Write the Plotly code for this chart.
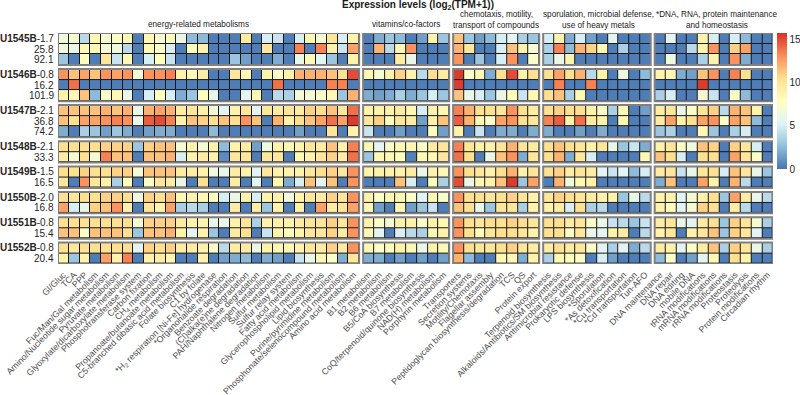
import plotly.graph_objects as go

# ---------------- data ----------------
sites = ["U1545B", "U1546B", "U1547B", "U1548B", "U1549B", "U1550B", "U1551B", "U1552B"]
depths = [["-1.7", "25.8", "92.1"], ["-0.8", "16.2", "101.9"], ["-2.1", "36.8", "74.2"],
          ["-2.1", "33.3"], ["-1.5", "16.5"], ["-2.0", "16.8"], ["-0.8", "15.4"], ["-0.8", "20.4"]]

group_titles = [["energy-related metabolisms"], ["vitamins/co-factors"],
                ["chemotaxis, motility,", "transport of compounds"],
                ["sporulation, microbial defense,", "use of heavy metals"],
                ["*DNA, RNA, protein maintenance", "and homeostasis"]]

energy_labels = ["Gl/Gluc", "TCA", "PPP", "Fuc/Man/Gal metabolism", "Amino/Nucleotide sugar metabolism",
                 "Pyruvate metabolism", "Glyoxylate/dicarboxylate metabolism", "Phosphotransferase system",
                 "Carbon fixation", "CH<sub>4</sub> metabolism", "Propanoate/butanoate metabolism",
                 "C5-branched dibasic acid metabolism", "Folate biosynthesis", "C1 by folate",
                 "*H<sub>2</sub> respiration [Ni-Fe] hydrogenase", "*Organohalide respiration",
                 "Benzoate degradation", "(Cl)alka(e)ne degradation", "PAH/Naphthalene degradation",
                 "Nitrogen metabolism", "Sulfur metabolism", "Sulfur relay system", "Fatty acid metabolism",
                 "Glycerophospholipid metabolism", "Lipid biosynthesis", "Purine/pyrimidine metabolism",
                 "Phosphonate/selenocompound metabolism", "Amino acid metabolism"]
vitamin_labels = ["B1 metabolism", "B2 metabolism", "B6 metabolism", "B5/CoA biosynthesis", "B7 metabolism",
                  "CoQ/terpenoid/quinone biosynthesis", "NAD(H) metabolism", "Porphyrin metabolism"]
chemo_labels = ["Transporters", "Secretion systems", "Motility/Chemotaxis", "Flagellar assembly",
                "Peptidoglycan biosynthesis/degradation", "TCS", "QS", "Protein export"]
spor_labels = ["Terpenoid biosynthesis", "Alkaloids/Antibiotics/SM biosynthesis", "Antimicrobial resistance",
               "Prokaryotic defense", "LPS biosynthesis", "*Sporulation", "*As detoxification",
               "*Cu transportation", "*Cd transportation", "Tun-AFO"]
dna_labels = ["DNA maintenance", "DNA repair", "DNA editing", "mobile DNA", "tRNA modifications",
              "mRNA modifications", "rRNA modifications", "Proteostasis", "Proteolysis",
              "Protein modifications", "Circadian rhythm"]

energy = [
    [6.5, 7, 4, 8.5, 7, 7.5, 8.5, 0.3, 8.5, 7, 8, 6, 2.5, 2.5, 0.3, 0.3, 0.3, 9.5, 0.3, 5, 4.5, 0.3, 5, 8.5, 7, 10, 5, 9],
    [6.5, 6, 8.5, 8.5, 7, 6.5, 4, 0.3, 8.5, 7.5, 5, 0.3, 8, 9, 0.3, 0.3, 0.3, 0.3, 0.3, 10, 0.3, 0.3, 13.5, 0.3, 13.5, 9, 4.5, 12.5],
    [3, 0.3, 8, 0.3, 10, 4.5, 8.5, 0.3, 5, 8, 4.5, 0.3, 0.3, 0.3, 0.3, 0.3, 3, 1.5, 0.3, 0.3, 2, 0.3, 6, 8.5, 5.5, 3, 0.3, 9],
    [13, 11.5, 12.5, 11.5, 13, 12.5, 13, 7, 13, 13, 13.5, 9, 8.5, 9.5, 0.3, 0.3, 10, 8.5, 0.3, 9, 7.5, 9, 12, 12, 12, 11.5, 10.5, 15],
    [0.3, 14, 0.3, 0.3, 0.3, 0.3, 0.3, 0.3, 0.3, 0.3, 0.3, 0.3, 0.3, 0.3, 0.3, 0.3, 0.3, 0.3, 0.3, 0.3, 14, 0.3, 0.3, 0.3, 0.3, 13.5, 13.5, 0.3],
    [9, 8.5, 11.5, 2.5, 7.5, 8.5, 6, 0.3, 5, 8, 5, 2, 3, 8, 6, 0.3, 0.3, 5.5, 8.5, 0.3, 4, 3.5, 7, 7, 7.5, 8.5, 3, 12],
    [11.5, 11.5, 11.5, 11.5, 12, 11.5, 12, 6, 12, 12.5, 12, 9.5, 10, 9, 7, 5.5, 9, 10, 5.5, 10, 9.5, 10, 9.5, 11, 10.5, 11.5, 10, 14],
    [11.5, 10.5, 12.5, 12.5, 13, 13.5, 13, 6, 14.5, 15, 13.5, 9, 11.5, 11, 10.5, 11.5, 10.5, 13, 11.5, 0.3, 12, 9, 10.5, 11.5, 12.5, 14, 12.5, 15.5],
    [2, 0.3, 3.5, 3, 1.5, 3, 2, 0.3, 1.5, 2, 2, 0.3, 0.3, 0.3, 2.5, 0.3, 0.3, 0.3, 0.3, 0.3, 0.3, 0.3, 1.5, 0.3, 0.3, 10, 0.3, 9],
    [10.5, 10.5, 10.5, 10.5, 11, 11, 11, 3, 11, 11.5, 11.5, 7, 9, 7, 9, 2.5, 9, 9.5, 1.5, 6.5, 9, 8.5, 9, 10, 9.5, 11.5, 9, 13.5],
    [9.5, 7, 10.5, 7, 13.5, 11.5, 11.5, 0.3, 11.5, 11.5, 12, 5, 9, 9.5, 9, 0.8, 10, 10, 0.3, 10, 10, 0.3, 8.5, 9, 10, 11, 9.5, 14],
    [10.5, 10.5, 11, 10.5, 10.5, 11, 11, 7, 11.5, 11.5, 11.5, 9.5, 9.5, 9, 6.5, 6, 9.5, 9, 5.5, 10, 9, 9, 9, 10, 10.5, 11, 10, 13],
    [10, 0.3, 13, 10, 9, 3.5, 8, 0.3, 7.5, 10, 9.5, 6, 0.3, 10.5, 0.3, 0.3, 9.5, 0.3, 5.5, 0.3, 8.5, 2, 5, 11.5, 5.5, 11.5, 0.3, 13],
    [10.5, 10, 10.5, 10.5, 11, 11, 10.5, 6.5, 11, 10.5, 11.5, 8.5, 9, 8.5, 8, 5, 6, 9, 5, 9, 9, 6.5, 9, 10, 9.5, 11, 10, 13],
    [12.5, 5, 6, 11, 11.5, 13, 9, 0.3, 10, 9, 12.5, 3.5, 4, 3.5, 0.3, 0.3, 9.5, 0.3, 9.5, 3, 9, 0.3, 9, 0.3, 12.5, 9.5, 10, 12.5],
    [10.5, 10.5, 10.5, 10.5, 10.5, 10.5, 10.5, 7, 11, 11, 11, 9.5, 9, 9, 6, 6, 9, 10, 3.5, 9, 9, 9, 9.5, 10, 10, 11, 10, 13],
    [11.5, 11.5, 7.5, 11.5, 11.5, 11.5, 10.5, 3, 11.5, 11.5, 12, 9, 5.5, 9, 3, 0.3, 9.5, 10.5, 0.3, 4.5, 9, 8, 9, 10, 10, 11, 9.5, 13],
    [10.5, 10, 10.5, 10.5, 10.5, 10.5, 10.5, 5.5, 11, 10.5, 11, 9.5, 9.5, 9, 7.5, 4, 9.5, 9.5, 6, 9, 8.5, 8.5, 9, 10, 9.5, 11, 9.5, 13],
    [9, 3, 9, 0.3, 12.5, 9, 13.5, 0.3, 9, 9.5, 8.5, 0.3, 0.3, 9, 0.3, 1.5, 2, 2.5, 0.3, 2, 1.5, 0.3, 4.5, 6, 8.5, 7.5, 2, 10],
]
vitamins = [
    [0.3, 2, 3, 2.5, 0.3, 1.5, 9, 3],
    [0.3, 12, 4, 8.5, 13, 0.3, 0.3, 0.3],
    [0.3, 0.3, 0.3, 9.5, 6, 0.3, 0.3, 0.3],
    [8.5, 7, 9, 11, 9, 4, 10.5, 9.5],
    [0.3, 0.3, 0.3, 0.3, 0.3, 0.3, 0.3, 0.3],
    [2, 1.5, 2, 3.5, 2, 3, 5, 3],
    [9, 9, 9, 9.5, 8.5, 5, 9, 8.5],
    [10, 11, 8, 10, 9.5, 1.5, 9, 11.5],
    [4.5, 0.3, 0.3, 1.5, 0.3, 0.3, 8, 1.5],
    [8.5, 5.5, 7.5, 8.5, 8.5, 7.5, 9.5, 10],
    [3, 8.5, 8.5, 8, 0.5, 8.5, 8.5, 10],
    [9, 9, 9, 9, 9.5, 6, 9, 8.5],
    [0.3, 0.3, 0.3, 11.5, 5, 0.3, 8, 3.5],
    [9, 7.5, 8.5, 8.5, 7.5, 5.5, 8.5, 7.5],
    [8.5, 1.5, 0.3, 8.5, 1.5, 3, 4.5, 0.3],
    [9, 7.5, 7, 9, 9, 7.5, 9, 8.5],
    [8.5, 5.5, 0.3, 5, 4, 3.5, 8.5, 9],
    [8.5, 7.5, 8, 9, 8.5, 6, 9, 8.5],
    [2, 2, 0.3, 1.5, 0.3, 1.5, 0.3, 1.5],
]
chemotaxis = [
    [11.5, 3, 1.5, 2.5, 5, 5.5, 3.5, 3],
    [12, 10, 0.3, 0.3, 5, 11.5, 9, 7],
    [13, 0.3, 3, 0.3, 5, 13, 0.3, 7.5],
    [15.5, 7.5, 8.5, 2, 10.5, 15, 9, 10.5],
    [15.5, 0.3, 0.3, 0.3, 0.3, 0.3, 0.3, 0.3],
    [11.5, 6, 5, 3, 6, 8, 4.5, 8.5],
    [13.5, 12, 10.5, 10.5, 10, 13, 10.5, 9.5],
    [14.5, 12, 8.5, 7.5, 12.5, 13, 10.5, 10],
    [9, 0.3, 4.5, 0.3, 2, 2, 0.3, 2],
    [13.5, 10, 9, 9, 10, 12, 10, 9.5],
    [14, 10.5, 0.3, 6, 11.5, 13, 2, 10],
    [13, 10.5, 10, 9, 10.5, 12, 9, 10],
    [15, 6, 8.5, 9, 11.5, 15.5, 3, 12.5],
    [13, 10.5, 10.5, 10, 10.5, 11, 10, 9],
    [11.5, 10.5, 6, 3, 10, 10, 3.5, 9],
    [13, 10.5, 10, 10.5, 10.5, 11, 10.5, 10],
    [13, 10.5, 8, 10, 10.5, 10.5, 10, 9],
    [13, 10.5, 10, 10, 10.5, 11, 10, 9.5],
    [12, 2.5, 0.3, 0.3, 8.5, 8.5, 2, 9],
]
sporulation = [
    [5, 9, 2, 5, 1.5, 0.3, 5.5, 0.3, 0.3, 0.3],
    [3.5, 13.5, 2.5, 12, 11, 8.5, 0.3, 3.5, 0.3, 0.3],
    [3.5, 6, 9, 0.3, 0.3, 0.3, 0.3, 0.3, 0.3, 0.3],
    [10.5, 12.5, 10.5, 12, 4, 9, 0.3, 6.5, 0.3, 2.5],
    [0.3, 13.5, 0.3, 0.3, 13.5, 0.3, 0.3, 0.3, 0.3, 0.3],
    [10.5, 11.5, 3.5, 8.5, 0.3, 0.3, 0.3, 0.3, 0.3, 0.3],
    [10.5, 11, 10.5, 10.5, 9, 7.5, 3.5, 8.5, 0.3, 1.5],
    [13.5, 14.5, 9, 14, 9.5, 9, 0.3, 8.5, 0.3, 0.3],
    [2, 0.3, 0.3, 1.5, 0.3, 2, 0.3, 0.3, 0.3, 0.3],
    [10.5, 11.5, 10.5, 10, 9, 10, 6, 3, 4.5, 2],
    [10.5, 12, 2, 10, 5, 0.3, 0.3, 0.3, 0.3, 8.5],
    [10.5, 11, 9.5, 10, 9.5, 5.5, 4.5, 5.5, 2.5, 5],
    [0.3, 12, 6.5, 8.5, 9, 0.3, 0.3, 0.3, 0.3, 0.3],
    [10, 11, 10.5, 10, 9.5, 9, 9, 3, 6, 4],
    [9, 9.5, 5, 10.5, 3.5, 4, 0.3, 0.3, 0.3, 0.3],
    [10.5, 10.5, 9.5, 10, 7.5, 6, 4.5, 4, 3, 4.5],
    [10.5, 10.5, 7.5, 10, 6, 5.5, 9, 9.5, 0.3, 4],
    [9.5, 10.5, 9.5, 10, 7.5, 5.5, 3.5, 5.5, 2, 4],
    [3.5, 8.5, 8, 7.5, 0.3, 5, 1.5, 0.3, 0.3, 0.3],
]
dna_rna = [
    [0.3, 5.5, 0.3, 0.3, 9, 5, 0.3, 5, 2.5, 0.3, 0.3],
    [0.3, 0.3, 0.3, 4, 9, 13, 0.3, 11, 12.5, 0.3, 0.3],
    [0.3, 6.5, 0.3, 0.3, 3.5, 9, 0.3, 13, 2, 0.3, 0.3],
    [9, 8.5, 2, 1.5, 11.5, 13, 0.3, 13.5, 10.5, 0.3, 0.3],
    [0.3, 0.3, 0.3, 0.3, 15.5, 0.3, 0.3, 0.3, 0.3, 0.3, 0.3],
    [3.5, 5, 0.3, 0.3, 7, 4.5, 0.3, 7.5, 2.5, 0.3, 0.3],
    [9.5, 10, 6, 7.5, 10, 11, 4, 12, 11.5, 9, 0.3],
    [9.5, 12.5, 9, 10.5, 12.5, 13, 7.5, 12.5, 11.5, 2.5, 0.3],
    [3, 3.5, 0.3, 0.3, 8.5, 3, 0.3, 3.5, 5, 0.3, 0.3],
    [9, 10, 7.5, 6.5, 11.5, 11, 0.3, 11, 10, 5, 0.3],
    [11.5, 10.5, 5, 0.3, 10.5, 10.5, 0.3, 12.5, 10, 7.5, 0.3],
    [9.5, 10, 4.5, 6, 10, 10.5, 5, 11.5, 10, 6, 3],
    [2, 11.5, 0.3, 0.3, 12.5, 9, 0.3, 12, 4, 0.3, 0.3],
    [9, 9, 5.5, 7, 9, 10.5, 3, 12.5, 9.5, 6, 4],
    [9, 8, 5.5, 7, 11, 10.5, 0.3, 9.5, 4, 0.3, 0.3],
    [9.5, 10, 6, 5.5, 9.5, 10.5, 3, 11, 10, 7, 3.5],
    [9, 10, 0.3, 9, 10, 11.5, 3, 11, 10, 5.5, 0.3],
    [9.5, 9, 5.5, 7.5, 9.5, 11.5, 3.5, 11, 10, 6, 3.5],
    [2.5, 7.5, 0.3, 1.5, 5.5, 8.5, 0.3, 10.5, 9, 0.3, 0.3],
]

# ---------------- layout helpers ----------------
FONT = "Liberation Sans, Arial, sans-serif"
GAP = 0.37
colorscale = [[0.0, "#4575B4"], [1 / 6, "#91BFDB"], [2 / 6, "#E0F3F8"], [3 / 6, "#FFFFBF"],
              [4 / 6, "#FEE090"], [5 / 6, "#FC8D59"], [1.0, "#D73027"]]

col_groups = [(energy_labels, energy), (vitamin_labels, vitamins), (chemo_labels, chemotaxis),
              (spor_labels, sporulation), (dna_labels, dna_rna)]
title_xshift = [-10, 0, 0, 2, 3]

col_pos = []
start = 0.0
for gi, (labels, _) in enumerate(col_groups):
    col_pos.append([start + i for i in range(len(labels))])
    start += len(labels) + GAP
x_max = col_pos[-1][-1] + 0.5

row_pos, row_idx = [], []
start, k = 0.0, 0
for d in depths:
    row_pos.append([start + i for i in range(len(d))])
    row_idx.append([k + i for i in range(len(d))])
    start += len(d) + GAP
    k += len(d)
y_max = row_pos[-1][-1] + 0.5

fig = go.Figure()
shapes = []
for gi, (labels, mat) in enumerate(col_groups):
    xs = col_pos[gi]
    for si in range(len(sites)):
        ys = row_pos[si]
        z = [mat[r] for r in row_idx[si]]
        fig.add_trace(go.Heatmap(x=xs, y=ys, z=z, coloraxis="coloraxis", xgap=1, ygap=1,
                                 hovertemplate="%{z}<extra></extra>"))
        box = dict(type="rect", xref="x", yref="y", x0=xs[0] - 0.5, x1=xs[-1] + 0.5,
                   y0=ys[0] - 0.5, y1=ys[-1] + 0.5)
        shapes.append(dict(box, fillcolor="#1a1a1a", line=dict(width=0), layer="below"))
        shapes.append(dict(box, fillcolor="rgba(0,0,0,0)", line=dict(color="#808080", width=2), layer="above"))

annotations = []
for si, site in enumerate(sites):
    for j, d in enumerate(depths[si]):
        txt = ("<b>%s</b>%s" % (site, d)) if j == 0 else d
        annotations.append(dict(xref="paper", yref="y", x=0, y=row_pos[si][j], xanchor="right",
                                yanchor="middle", xshift=-2, text=txt, showarrow=False,
                                font=dict(family=FONT, size=10, color="#262626")))
for gi, lines in enumerate(group_titles):
    xc = (col_pos[gi][0] + col_pos[gi][-1]) / 2
    shifts = [9] if len(lines) == 1 else [19, 8]
    for line, sh in zip(lines, shifts):
        annotations.append(dict(xref="x", yref="paper", x=xc, y=1, yanchor="middle", yshift=sh,
                                xshift=title_xshift[gi], text=line, showarrow=False,
                                font=dict(family=FONT, size=8.2, color="#1a1a1a")))
annotations.append(dict(xref="paper", yref="paper", x=0.5, y=1, yanchor="middle", yshift=28, xshift=2,
                        text="<b>Expression levels (log<sub>2</sub>(TPM+1))</b>", showarrow=False,
                        font=dict(family=FONT, size=10, color="#1a1a1a")))

tickvals = [p for g in col_pos for p in g]
ticktext = [t for labels, _ in col_groups for t in labels]

fig.update_layout(
    width=800, height=395, autosize=False,
    margin=dict(l=58, r=27, t=33, b=130.5, autoexpand=False),
    plot_bgcolor="white", paper_bgcolor="white",
    shapes=shapes, annotations=annotations, showlegend=False,
    coloraxis=dict(cmin=0, cmax=15.8, colorscale=colorscale,
                   colorbar=dict(x=1.0056, xanchor="left", xpad=0, ypad=0, thickness=10,
                                 lenmode="pixels", len=136, y=1, yanchor="top",
                                 tickvals=[0, 5, 10, 15], ticks="", ticklen=0, outlinewidth=0,
                                 tickfont=dict(family=FONT, size=10, color="#262626"))),
    xaxis=dict(range=[-0.5, x_max], showgrid=False, zeroline=False, showline=False, automargin=False,
               tickvals=tickvals, ticktext=ticktext, tickangle=-45, ticks="", ticklabelstandoff=3,
               tickfont=dict(family=FONT, size=8.8, color="#4d4d4d")),
    yaxis=dict(range=[y_max, -0.5], showgrid=False, zeroline=False, showline=False, automargin=False,
               showticklabels=False, ticks=""),
)

fig.write_html("out.html", config={"displayModeBar": False},
               post_script="document.body.style.margin='0px';")
